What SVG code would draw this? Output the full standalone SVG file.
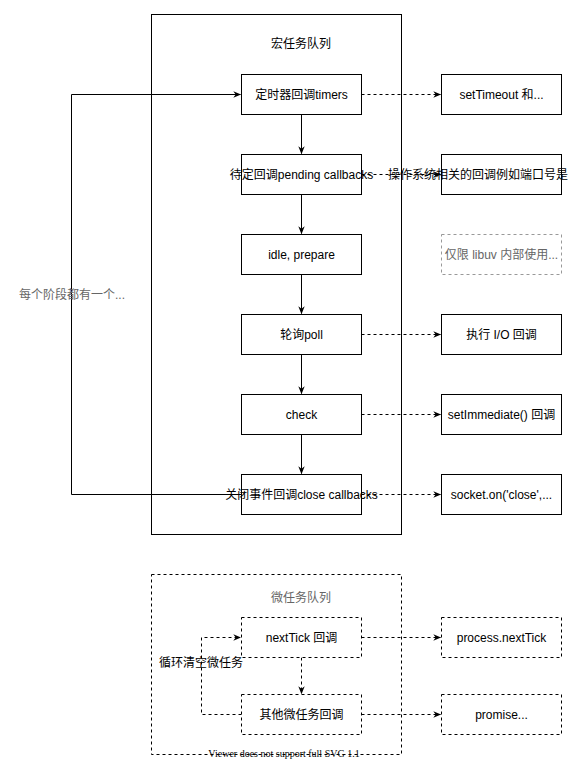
<svg xmlns="http://www.w3.org/2000/svg" width="568" height="761" viewBox="0 0 568 761">
<defs>
<marker id="arr" viewBox="0 0 10 10" refX="9" refY="5" markerWidth="8" markerHeight="8" orient="auto" markerUnits="userSpaceOnUse">
<path d="M0,1 L10,5 L0,9 L3,5 Z" fill="#000"/>
</marker>
</defs>
<style>
text{font-family:"Liberation Sans","Noto Sans CJK SC",sans-serif;font-size:12px;fill:#000;}
.c{text-anchor:middle;dominant-baseline:central;}
.g{fill:#666;}
.box{fill:#fff;stroke:#000;stroke-width:1;}
.dbox{fill:#fff;stroke:#000;stroke-width:1;stroke-dasharray:3 3;}
.gbox{fill:#fff;stroke:#999;stroke-width:1;stroke-dasharray:3 3;}
.solid{fill:none;stroke:#000;stroke-width:1;marker-end:url(#arr);}
.dash{fill:none;stroke:#000;stroke-width:1;stroke-dasharray:3 3;marker-end:url(#arr);}
.cont{fill:none;stroke:#000;stroke-width:1;}
.dcont{fill:none;stroke:#000;stroke-width:1;stroke-dasharray:3 3;}
</style>
<rect width="568" height="761" fill="#fff"/>

<g id="macro">
<rect class="cont" x="151.5" y="14.5" width="250" height="520"/>
<text class="c" x="301" y="44">宏任务队列</text>
</g>
<g id="micro">
<rect class="dcont" x="151.5" y="574.5" width="250" height="180"/>
<text class="c g" x="301" y="598">微任务队列</text>
</g>

<g id="connectors">
<path class="solid" d="M301.5,114.5 V153.5"/>
<path class="solid" d="M301.5,194.5 V233.5"/>
<path class="solid" d="M301.5,274.5 V313.5"/>
<path class="solid" d="M301.5,354.5 V393.5"/>
<path class="solid" d="M301.5,434.5 V473.5"/>
<path class="solid" d="M241.5,494.5 H71.5 V94.5 H240.5"/>
<path class="dash" d="M361.5,94.5 H440.5"/>
<path class="dash" d="M361.5,174.5 H440.5"/>
<path class="dash" d="M361.5,334.5 H440.5"/>
<path class="dash" d="M361.5,414.5 H440.5"/>
<path class="dash" d="M361.5,494.5 H440.5"/>
<path class="dash" d="M301.5,657.5 V693.5"/>
<path class="dash" d="M241.5,714.5 H201.5 V637.5 H240.5"/>
<path class="dash" d="M361.5,637.5 H440.5"/>
<path class="dash" d="M361.5,714.5 H440.5"/>
</g>

<g id="timers"><rect class="box" x="241.5" y="74.5" width="120" height="40"/><text class="c" x="301.5" y="94.5">定时器回调timers</text></g>
<g id="pending"><rect class="box" x="241.5" y="154.5" width="120" height="40"/><text class="c" x="301.5" y="174.5">待定回调pending callbacks</text></g>
<g id="idle"><rect class="box" x="241.5" y="234.5" width="120" height="40"/><text class="c" x="301.5" y="254.5">idle, prepare</text></g>
<g id="poll"><rect class="box" x="241.5" y="314.5" width="120" height="40"/><text class="c" x="301.5" y="334.5">轮询poll</text></g>
<g id="check"><rect class="box" x="241.5" y="394.5" width="120" height="40"/><text class="c" x="301.5" y="414.5">check</text></g>
<g id="close"><rect class="box" x="241.5" y="474.5" width="120" height="40"/><text class="c" x="301.5" y="494.5">关闭事件回调close callbacks</text></g>

<g id="r-timers"><rect class="box" x="441.5" y="74.5" width="120" height="40"/><text class="c" x="501.5" y="94.5">setTimeout 和...</text></g>
<g id="r-pending"><rect class="box" x="441.5" y="154.5" width="120" height="40"/><text x="388" y="174.5" dominant-baseline="central">操作系统相关的回调例如端口号是</text></g>
<g id="r-idle"><rect class="gbox" x="441.5" y="234.5" width="120" height="40"/><text class="c g" x="501.5" y="254.5">仅限 libuv 内部使用...</text></g>
<g id="r-poll"><rect class="box" x="441.5" y="314.5" width="120" height="40"/><text class="c" x="501.5" y="334.5">执行 I/O 回调</text></g>
<g id="r-check"><rect class="box" x="441.5" y="394.5" width="120" height="40"/><text class="c" x="501.5" y="414.5">setImmediate() 回调</text></g>
<g id="r-close"><rect class="box" x="441.5" y="474.5" width="120" height="40"/><text class="c" x="501.5" y="494.5">socket.on('close',...</text></g>

<g id="loop-label"><text class="c g" x="72" y="294.5">每个阶段都有一个...</text></g>

<g id="nexttick"><rect class="dbox" x="241.5" y="617.5" width="120" height="40"/><text class="c" x="301.5" y="637.5">nextTick 回调</text></g>
<g id="othermicro"><rect class="dbox" x="241.5" y="694.5" width="120" height="40"/><text class="c" x="301.5" y="714.5">其他微任务回调</text></g>
<g id="processnexttick"><rect class="dbox" x="441.5" y="617.5" width="120" height="40"/><text class="c" x="501.5" y="637.5">process.nextTick</text></g>
<g id="promise"><rect class="dbox" x="441.5" y="694.5" width="120" height="40"/><text class="c" x="501.5" y="714.5">promise...</text></g>
<g id="micro-loop-label"><text class="c" x="201" y="663">循环清空微任务</text></g>

<text x="284" y="757" text-anchor="middle" style="font-family:'Liberation Serif',serif;font-size:10px;">Viewer does not support full SVG 1.1</text>
</svg>
